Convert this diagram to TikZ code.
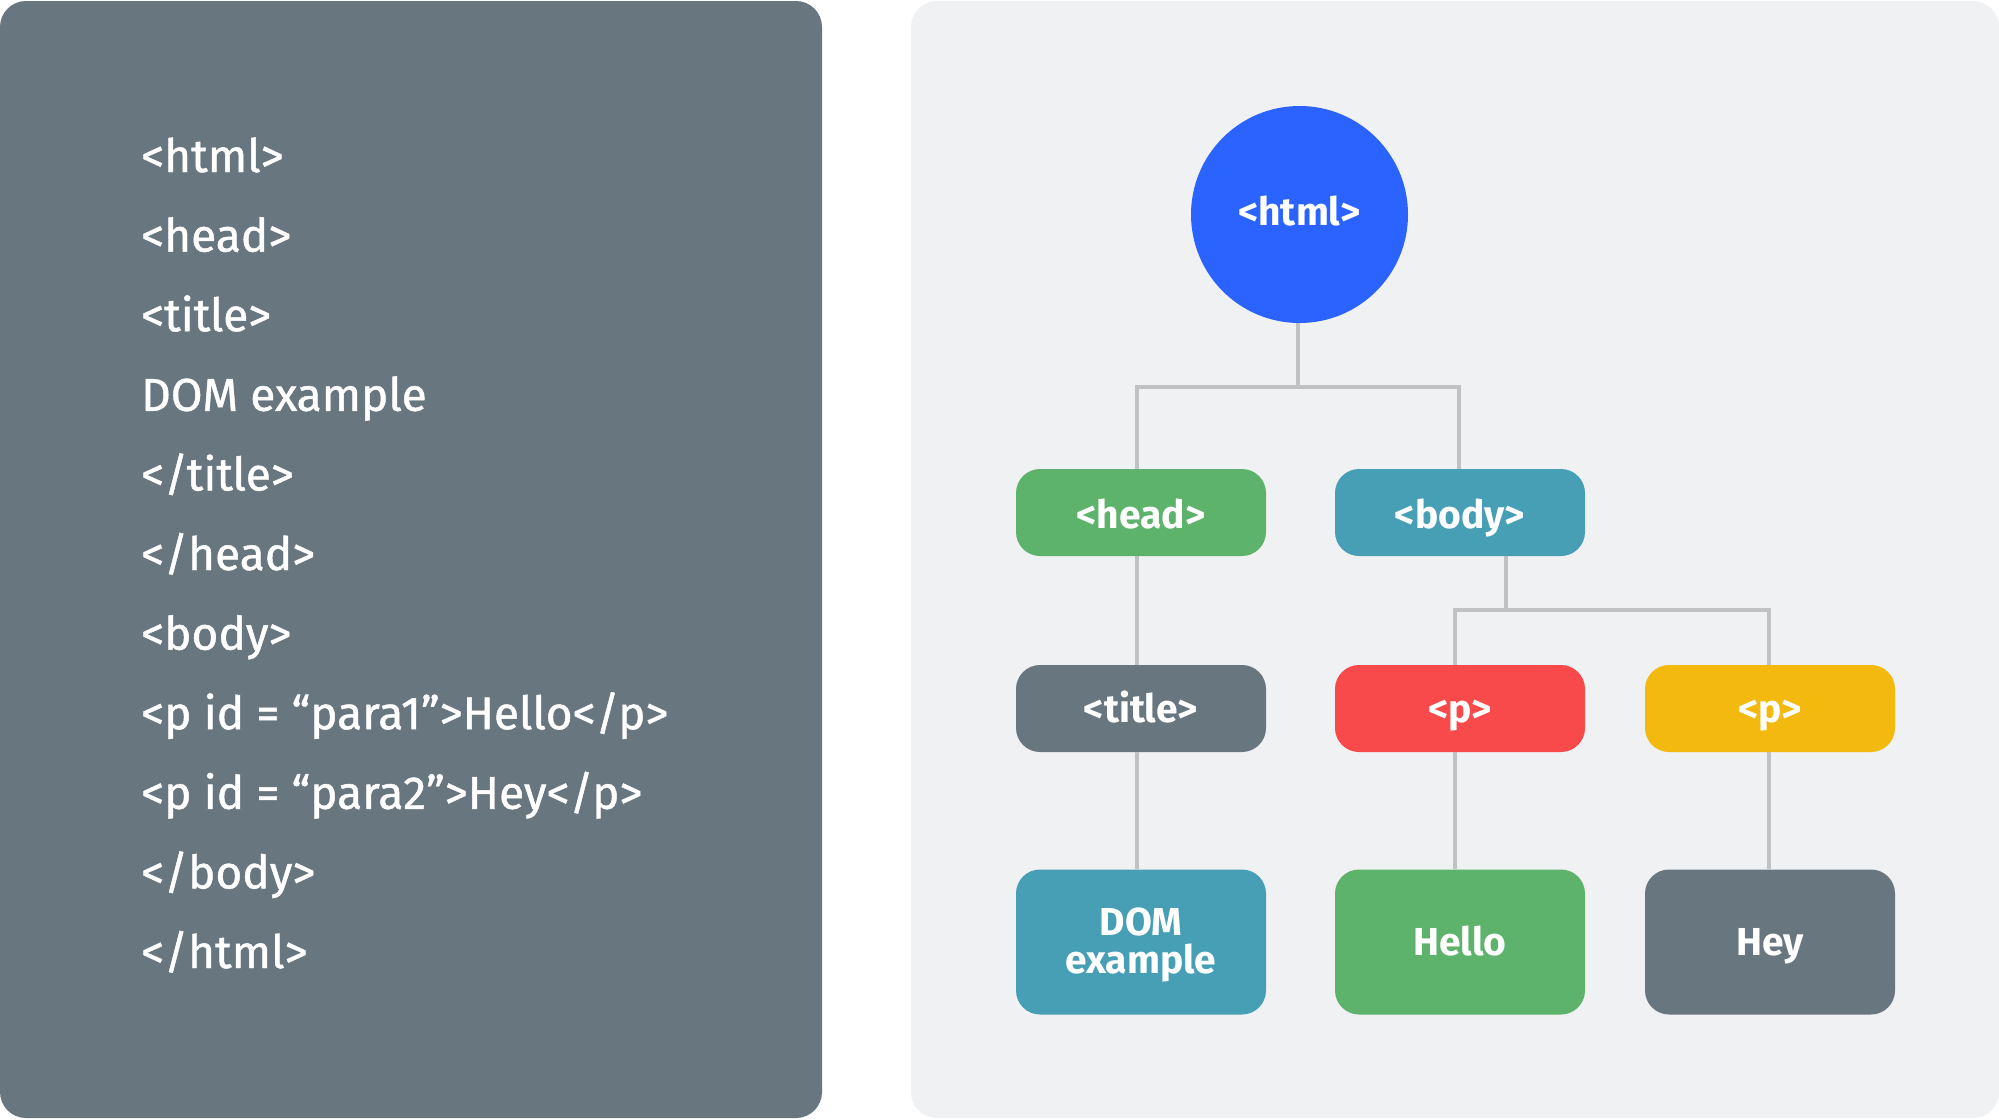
\documentclass[tikz,border=0pt]{standalone}
\usepackage{fontspec}
\setmainfont{Fira Sans}
\newfontfamily\codefont{Fira Sans}[FakeBold=1.0]
\definecolor{panelL}{HTML}{687680}
\definecolor{panelR}{HTML}{F0F1F3}
\definecolor{cblue}{HTML}{2A63FF}
\definecolor{cgreen}{HTML}{5DB36B}
\definecolor{cteal}{HTML}{479FB5}
\definecolor{cred}{HTML}{F8494B}
\definecolor{cyellow}{HTML}{F3B90F}
\definecolor{cgray}{HTML}{687680}
\definecolor{cline}{HTML}{C0C1C3}
\begin{document}
\begin{tikzpicture}[x=1pt,y=-1pt,
  codeline/.style={anchor=base west,text=white,inner sep=0pt,font=\codefont\fontsize{46}{48}\selectfont},
  treebox/.style={rectangle,rounded corners=24pt,minimum width=250pt,minimum height=87pt,inner sep=0pt,text=white,font=\bfseries\fontsize{39}{39}\selectfont,align=center,text height=31pt,text depth=0pt},
  leafbox/.style={treebox,minimum height=145pt},
  conn/.style={draw=cline,line width=4pt}]
\useasboundingbox (0,0) rectangle (1999,1119);
\fill[white] (0,0) rectangle (1999,1119);
\fill[panelL,rounded corners=26pt] (0,1) rectangle (822,1118);
\fill[panelR,rounded corners=26pt] (911,1) rectangle (1999,1118);
% code lines
\foreach \t [count=\i from 0] in {{<html>},{<head>},{<title>},{DOM example},{</title>},{</head>},{<body>},{<p id = “para1”>Hello</p>},{<p id = “para2”>Hey</p>},{</body>},{</html>}}{
  \node[codeline] (code\i) at (141,172+79.6*\i) {\t};
}
% tree
\node[circle,fill=cblue,minimum size=217pt,inner sep=0pt,text=white,font=\bfseries\fontsize{39}{39}\selectfont,text height=21pt,text depth=0pt] (html) at (1299.5,214.5) {<html>};
\node[treebox,fill=cgreen] (head) at (1141,512.5) {<head>};
\node[treebox,fill=cteal] (body) at (1460,512.5) {<body>};
\node[treebox,fill=cgray,text height=27pt] (title) at (1141,708.5) {<title>};
\node[treebox,fill=cred,text height=27pt] (p1) at (1460,708.5) {<p>};
\node[treebox,fill=cyellow,text height=27pt] (p2) at (1770,708.5) {<p>};
\node[leafbox,fill=cteal,text height=62pt] (dom) at (1141,942) {DOM\\[-1pt]example};
\node[leafbox,fill=cgreen,text height=26pt] (hello) at (1460,942) {Hello};
\node[leafbox,fill=cgray,text height=26pt] (hey) at (1770,942) {Hey};
\coordinate (j1) at (1298,387);
\coordinate (j2) at (1506,610);
\draw[conn] ([xshift=-1.5pt]html.south) -- (j1);
\draw[conn] ([xshift=-4pt]head.north) |- (j1) -| ([xshift=-1pt]body.north);
\draw[conn] ([xshift=-4pt]head.south) -- ([xshift=-4pt]title.north);
\draw[conn] ([xshift=46pt]body.south) -- (j2);
\draw[conn] ([xshift=-5pt]p1.north) |- (j2) -| ([xshift=-1pt]p2.north);
\draw[conn] ([xshift=-4pt]title.south) -- ([xshift=-4pt]dom.north);
\draw[conn] ([xshift=-5pt]p1.south) -- ([xshift=-5pt]hello.north);
\draw[conn] ([xshift=-1pt]p2.south) -- ([xshift=-1pt]hey.north);
\end{tikzpicture}
\end{document}
